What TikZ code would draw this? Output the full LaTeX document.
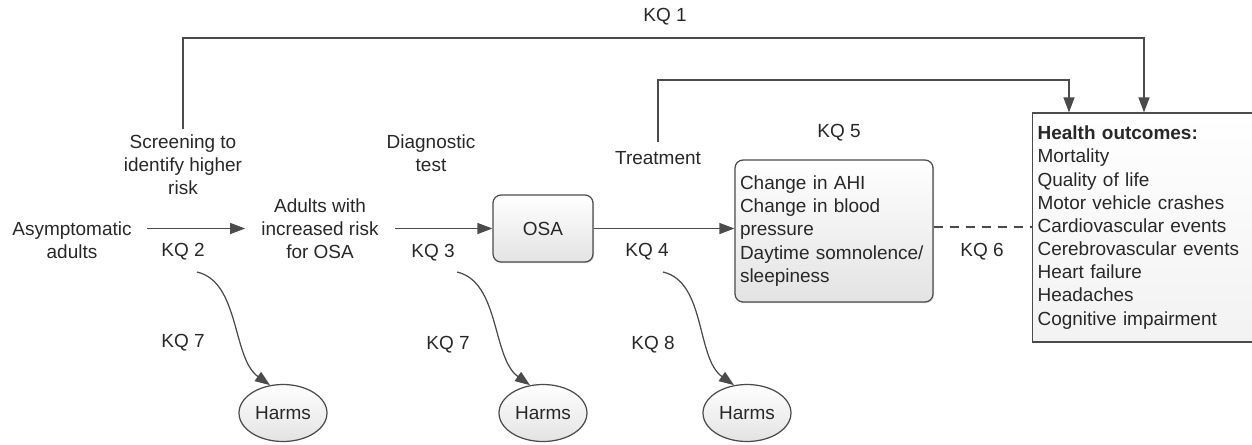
\documentclass[tikz,border=0pt]{standalone}
\usepackage{fontspec}
\setmainfont{Liberation Sans}
\usetikzlibrary{arrows.meta,shapes.geometric,shadows}
\definecolor{ln}{RGB}{75,75,75}
\definecolor{tx}{RGB}{40,40,40}
\begin{document}
\begin{tikzpicture}[x=0.02cm,y=-0.02cm,
  font=\fontsize{10.8}{13.2}\selectfont, text=tx,
  arr/.style={draw=ln, line width=0.7pt, -{Triangle[length=0.3cm,width=0.22cm]}},
  dashln/.style={draw=ln, line width=0.7pt, dash pattern=on 0.18cm off 0.14cm},
  lbl/.style={inner sep=0pt, align=center},
  rbox/.style={draw=ln, line width=0.7pt, rounded corners=0.16cm, top color=white, bottom color=gray!22,
    drop shadow={shadow xshift=0.6pt, shadow yshift=-0.6pt, opacity=0.3}},
  hbox/.style={draw=ln, line width=0.7pt, top color=white, bottom color=gray!10,
    drop shadow={shadow xshift=0.6pt, shadow yshift=-0.6pt, opacity=0.3}},
  harm/.style={ellipse, draw=ln, line width=0.7pt, top color=white, bottom color=gray!22,
    minimum width=1.76cm, minimum height=1.14cm, inner sep=0pt}]
\useasboundingbox[fill=white] (0,0) rectangle (1252,444);

% main chain
\node[lbl, inner xsep=0.3cm] (asym) at (72,240) {Asymptomatic\\adults};
\node[lbl, inner xsep=0.32cm] (adults) at (320,228.5) {Adults with\\increased risk\\for OSA};
\node[rbox, minimum width=2cm, minimum height=1.34cm, inner sep=0pt] (osa) at (543,228.5) {OSA};
\node[rbox, minimum height=2.84cm, text width=3.76cm, inner xsep=0.1cm, align=left] (outc) at (834,231)
  {Change in AHI\\Change in blood\\pressure\\Daytime somnolence/\\sleepiness};
\node[hbox, anchor=west, minimum height=4.58cm, text width=5.2cm, inner xsep=0.1cm, align=left] (health) at (1032,227.5)
  {\textbf{Health outcomes:}\\Mortality\\Quality of life\\Motor vehicle crashes\\Cardiovascular events\\Cerebrovascular events\\Heart failure\\Headaches\\Cognitive impairment};

% upper labels
\node[lbl, inner ysep=0.1cm] (scr) at (183,165) {Screening to\\identify higher\\risk};
\node[lbl] (diag) at (431,153.5) {Diagnostic\\test};
\node[lbl, inner ysep=0.18cm] (treat) at (658,158) {Treatment};
\node[lbl] (kq1) at (665,17) {KQ 1};
\node[lbl] (kq5) at (839,133) {KQ 5};

% lower labels
\node[lbl] (kq2) at (183,252) {KQ 2};
\node[lbl] (kq3) at (433,253) {KQ 3};
\node[lbl] (kq4) at (647,252) {KQ 4};
\node[lbl] (kq6) at (982,252) {KQ 6};
\node[lbl] (kq7a) at (183,343) {KQ 7};
\node[lbl] (kq7b) at (448,345) {KQ 7};
\node[lbl] (kq8) at (653,345) {KQ 8};

% harms
\node[harm] (h1) at (283,413) {Harms};
\node[harm] (h2) at (543,413) {Harms};
\node[harm] (h3) at (747,413) {Harms};

% straight connectors
\draw[arr] (asym.east |- adults.west) -- (adults.west);
\draw[arr] (adults.east) -- (osa.west);
\draw[arr] (osa.east) -- (outc.west |- osa.east);
\draw[dashln] (outc.east |- 0,227) -- (health.west |- 0,227);

% overarching connectors
\coordinate (k1) at (1144,38);
\coordinate (k5) at (1069,80);
\draw[arr] (scr.north) |- (k1) -- (k1 |- health.north);
\draw[arr] (treat.north) |- (k5) -- (k5 |- health.north);

% harms connectors
\coordinate (s1) at (197,272);
\coordinate (s2) at (457,272);
\coordinate (s3) at (663,272);
\draw[arr] (s1) .. controls +(43,10) and +(-38,-27) .. (h1.115);
\draw[arr] (s2) .. controls +(43,10) and +(-38,-27) .. (h2.115);
\draw[arr] (s3) .. controls +(43,10) and +(-38,-27) .. (h3.115);
\end{tikzpicture}
\end{document}
